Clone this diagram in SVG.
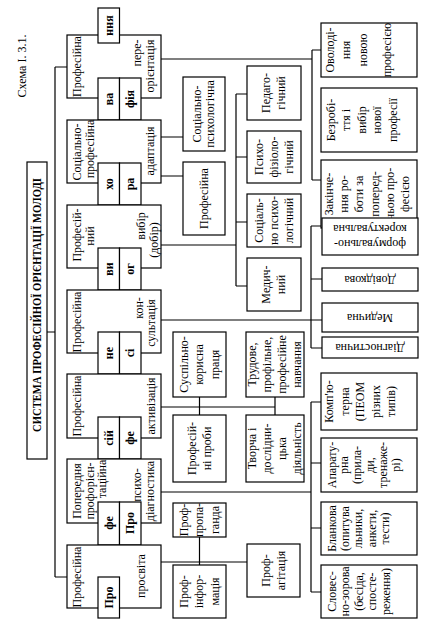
<svg xmlns="http://www.w3.org/2000/svg" width="433" height="631" viewBox="0 0 433 631">
<style>
.b{fill:#fff;stroke:#000;stroke-width:1.2}
.l{fill:none;stroke:#000;stroke-width:1.2}
text{font-family:"Liberation Serif","Times New Roman",serif;font-size:12px;fill:#000;text-anchor:middle}
.bd{font-weight:bold}
</style>
<rect width="433" height="631" fill="#fff"/>
<text transform="translate(22,66) rotate(-90)" y="4">Схема І. 3.1.</text>

<g id="connectors" class="l">
<path d="M55,67V577M55,67H67M55,577H67M47,332H55"/>
<path d="M161,59H312M312,50V180M312,50H321M312,180H321"/>
<path d="M161,137H183M161,176H183"/>
<path d="M161,245H236M236,94V286M236,94H247M236,157H247M236,222H247M236,286H247"/>
<path d="M161,320H322M311,226V348M311,226H322M311,279H322M311,348H322"/>
<path d="M161,407H275M199.5,397V415M275,397V415"/>
<path d="M161,492H311M311,402V592M311,402H321M311,463H321M311,528H321M311,592H321"/>
<path d="M161,562H247M199.5,537V565"/>
</g>

<g id="title">
<rect class="b" x="27" y="162" width="20" height="297"/>
<text class="bd" transform="translate(37,305) rotate(-90)" y="4" textLength="254" lengthAdjust="spacingAndGlyphs">СИСТЕМА ПРОФЕСІЙНОЇ ОРІЄНТАЦІЇ МОЛОДІ</text>
</g>

<g id="cat1">
<rect class="b" x="67" y="35" width="94" height="63"/>
<rect class="b" x="98" y="8" width="21.5" height="35"/>
<rect class="b" x="98" y="78" width="21.5" height="42"/>
<rect class="b" x="119.5" y="78" width="21.5" height="42"/>
<text transform="translate(77,66.5) rotate(-90)" y="4">Професійна</text>
<text class="bd" transform="translate(108.7,25.5) rotate(-90)" y="4">ння</text>
<text class="bd" transform="translate(108.7,99) rotate(-90)" y="4">ва</text>
<text class="bd" transform="translate(130.3,99) rotate(-90)" y="4">фія</text>
<text transform="translate(137,53) rotate(-90)" y="4">пере-</text>
<text transform="translate(149.5,66) rotate(-90)" y="4">орієнтація</text>
</g>

<g id="cat2">
<rect class="b" x="67" y="120" width="94" height="63"/>
<rect class="b" x="98" y="163" width="21.5" height="42"/>
<rect class="b" x="119.5" y="163" width="21.5" height="42"/>
<text transform="translate(77,152) rotate(-90)" y="4">Соціально-</text>
<text transform="translate(89.5,149) rotate(-90)" y="4">професійна</text>
<text class="bd" transform="translate(108.7,184) rotate(-90)" y="4">хо</text>
<text class="bd" transform="translate(130.3,184) rotate(-90)" y="4">ра</text>
<text transform="translate(150,151) rotate(-90)" y="4">адаптація</text>
</g>

<g id="cat3">
<rect class="b" x="67" y="205" width="94" height="63"/>
<rect class="b" x="98" y="248" width="21.5" height="42"/>
<rect class="b" x="119.5" y="248" width="21.5" height="42"/>
<text transform="translate(77,235) rotate(-90)" y="4">Професій-</text>
<text transform="translate(89.5,236) rotate(-90)" y="4">ний</text>
<text class="bd" transform="translate(108.7,269) rotate(-90)" y="4">ви</text>
<text class="bd" transform="translate(130.3,269) rotate(-90)" y="4">ог</text>
<text transform="translate(141,226) rotate(-90)" y="4">вибір</text>
<text transform="translate(154,240) rotate(-90)" y="4">(добір)</text>
</g>

<g id="cat4">
<rect class="b" x="67" y="290" width="94" height="63"/>
<rect class="b" x="98" y="332" width="21.5" height="42"/>
<rect class="b" x="119.5" y="332" width="21.5" height="42"/>
<text transform="translate(77,322) rotate(-90)" y="4">Професійна</text>
<text class="bd" transform="translate(108.7,353) rotate(-90)" y="4">не</text>
<text class="bd" transform="translate(130.3,353) rotate(-90)" y="4">сі</text>
<text transform="translate(139,308) rotate(-90)" y="4">кон-</text>
<text transform="translate(151,323) rotate(-90)" y="4">сультація</text>
</g>

<g id="cat5">
<rect class="b" x="67" y="374" width="94" height="64"/>
<rect class="b" x="98" y="417" width="21.5" height="42"/>
<rect class="b" x="119.5" y="417" width="21.5" height="42"/>
<text transform="translate(77,406) rotate(-90)" y="4">Професійна</text>
<text class="bd" transform="translate(108.7,438) rotate(-90)" y="4">сій</text>
<text class="bd" transform="translate(130.3,438) rotate(-90)" y="4">фе</text>
<text transform="translate(151,406) rotate(-90)" y="4">активізація</text>
</g>

<g id="cat6">
<rect class="b" x="67" y="459" width="94" height="64"/>
<rect class="b" x="98" y="502" width="21.5" height="43"/>
<rect class="b" x="119.5" y="502" width="21.5" height="43"/>
<text transform="translate(77,491) rotate(-90)" y="4">Попередня</text>
<text transform="translate(89.5,491) rotate(-90)" y="4">профорієн-</text>
<text transform="translate(102,479) rotate(-90)" y="4">таційна</text>
<text class="bd" transform="translate(108.7,523) rotate(-90)" y="4">фе</text>
<text class="bd" transform="translate(130.3,523) rotate(-90)" y="4">Про</text>
<text transform="translate(137,485) rotate(-90)" y="4">психо-</text>
<text transform="translate(149.5,491) rotate(-90)" y="4">діагностика</text>
</g>

<g id="cat7">
<rect class="b" x="67" y="545" width="94" height="63"/>
<rect class="b" x="98" y="577" width="21.5" height="41"/>
<text transform="translate(77,577) rotate(-90)" y="4">Професійна</text>
<text class="bd" transform="translate(108.7,597.5) rotate(-90)" y="4">Про</text>
<text transform="translate(141,576) rotate(-90)" y="4">просвіта</text>
</g>

<g id="a1">
<rect class="b" x="321" y="23" width="96" height="54"/>
<text transform="translate(329.5,50) rotate(-90)" y="4">Оволоді-</text>
<text transform="translate(346,50) rotate(-90)" y="4">ння</text>
<text transform="translate(363,50) rotate(-90)" y="4">новою</text>
<text transform="translate(387,50) rotate(-90)" y="4">професією</text>
</g>
<g id="a2">
<rect class="b" x="321" y="88" width="96" height="64"/>
<text transform="translate(330.5,120) rotate(-90)" y="4">Безробі-</text>
<text transform="translate(346,120) rotate(-90)" y="4">ття і</text>
<text transform="translate(361.5,120) rotate(-90)" y="4">вибір</text>
<text transform="translate(377,120) rotate(-90)" y="4">нової</text>
<text transform="translate(392.5,120) rotate(-90)" y="4">професії</text>
</g>
<g id="a3">
<rect class="b" x="321" y="160" width="96" height="68"/>
<text transform="translate(329,194) rotate(-90)" y="4">Закінче-</text>
<text transform="translate(344.2,194) rotate(-90)" y="4">ння ро-</text>
<text transform="translate(359.4,194) rotate(-90)" y="4">боти за</text>
<text transform="translate(374.6,194) rotate(-90)" y="4">поперед-</text>
<text transform="translate(389.8,194) rotate(-90)" y="4">ньою про-</text>
<text transform="translate(405,194) rotate(-90)" y="4">фесією</text>
</g>

<g id="b1">
<rect class="b" x="183" y="77" width="42" height="74"/>
<text transform="translate(197,114) rotate(-90)" y="4">Соціально-</text>
<text transform="translate(210,114) rotate(-90)" y="4">психологічна</text>
</g>
<g id="b2">
<rect class="b" x="183" y="162" width="42" height="73"/>
<text transform="translate(204,198.5) rotate(-90)" y="4">Професійна</text>
</g>

<g id="c1">
<rect class="b" x="247" y="66" width="54" height="54"/>
<text transform="translate(266,93) rotate(-90)" y="4">Педаго-</text>
<text transform="translate(281,93) rotate(-90)" y="4">гічний</text>
</g>
<g id="c2">
<rect class="b" x="247" y="131" width="54" height="52"/>
<text transform="translate(259,157) rotate(-90)" y="4">Психо-</text>
<text transform="translate(274,157) rotate(-90)" y="4">фізіоло-</text>
<text transform="translate(289,157) rotate(-90)" y="4">гічний</text>
</g>
<g id="c3">
<rect class="b" x="247" y="194" width="54" height="53"/>
<text transform="translate(259,220.5) rotate(-90)" y="4">Соціаль-</text>
<text transform="translate(274,220.5) rotate(-90)" y="4">но психо-</text>
<text transform="translate(289,220.5) rotate(-90)" y="4">логічний</text>
</g>
<g id="c4">
<rect class="b" x="247" y="258" width="54" height="53"/>
<text transform="translate(266,284.5) rotate(-90)" y="4">Медич-</text>
<text transform="translate(281,284.5) rotate(-90)" y="4">ний</text>
</g>

<g id="d1">
<rect class="b" x="322" y="218" width="96" height="37"/>
<text transform="translate(370,244) rotate(180)" y="4">формувально-</text>
<text transform="translate(370,229) rotate(180)" y="4">коректувальна</text>
</g>
<g id="d2">
<rect class="b" x="322" y="268" width="96" height="23"/>
<text transform="translate(370,279.5) rotate(180)" y="4">Довідкова</text>
</g>
<g id="d3">
<rect class="b" x="322" y="303" width="96" height="29"/>
<text transform="translate(370,317.5) rotate(180)" y="4">Медична</text>
</g>
<g id="d4">
<rect class="b" x="322" y="337" width="96" height="21"/>
<text transform="translate(370,347.5) rotate(180)" y="4">Діагностична</text>
</g>

<g id="e1">
<rect class="b" x="173" y="332" width="53" height="65"/>
<text transform="translate(183.5,364.5) rotate(-90)" y="4">Суспільно-</text>
<text transform="translate(199,364.5) rotate(-90)" y="4">корисна</text>
<text transform="translate(214.5,364.5) rotate(-90)" y="4">праця</text>
</g>
<g id="e2">
<rect class="b" x="246" y="332" width="58" height="65"/>
<text transform="translate(252,364.5) rotate(-90)" y="4">Трудове,</text>
<text transform="translate(267,364.5) rotate(-90)" y="4">профільне,</text>
<text transform="translate(282,364.5) rotate(-90)" y="4">професійне</text>
<text transform="translate(297,364.5) rotate(-90)" y="4">навчання</text>
</g>
<g id="e3">
<rect class="b" x="173" y="415" width="53" height="67"/>
<text transform="translate(192,448.5) rotate(-90)" y="4">Професій-</text>
<text transform="translate(207,448.5) rotate(-90)" y="4">ні проби</text>
</g>
<g id="e4">
<rect class="b" x="246" y="415" width="58" height="67"/>
<text transform="translate(252,448.5) rotate(-90)" y="4">Творча і</text>
<text transform="translate(267,448.5) rotate(-90)" y="4">дослідни-</text>
<text transform="translate(282,448.5) rotate(-90)" y="4">цька</text>
<text transform="translate(297,448.5) rotate(-90)" y="4">діяльність</text>
</g>

<g id="f1">
<rect class="b" x="321" y="373" width="96" height="57"/>
<text transform="translate(329,401.5) rotate(-90)" y="4">Комп'ю-</text>
<text transform="translate(344.5,401.5) rotate(-90)" y="4">терна</text>
<text transform="translate(360,401.5) rotate(-90)" y="4">(ПЕОМ</text>
<text transform="translate(375.5,401.5) rotate(-90)" y="4">різних</text>
<text transform="translate(391,401.5) rotate(-90)" y="4">типів)</text>
</g>
<g id="f2">
<rect class="b" x="321" y="438" width="96" height="54"/>
<text transform="translate(331.5,465) rotate(-90)" y="4">Апарату-</text>
<text transform="translate(344.3,465) rotate(-90)" y="4">рна</text>
<text transform="translate(357.1,465) rotate(-90)" y="4">(прила-</text>
<text transform="translate(369.9,465) rotate(-90)" y="4">ди,</text>
<text transform="translate(382.7,465) rotate(-90)" y="4">тренаже-</text>
<text transform="translate(395.5,465) rotate(-90)" y="4">рі)</text>
</g>
<g id="f3">
<rect class="b" x="321" y="502" width="96" height="53"/>
<text transform="translate(331.5,528.5) rotate(-90)" y="4">Бланкова</text>
<text transform="translate(344.9,528.5) rotate(-90)" y="4">(опитува</text>
<text transform="translate(358.3,528.5) rotate(-90)" y="4">льники,</text>
<text transform="translate(371.7,528.5) rotate(-90)" y="4">анкети,</text>
<text transform="translate(385.1,528.5) rotate(-90)" y="4">тести)</text>
</g>
<g id="f4">
<rect class="b" x="321" y="565" width="96" height="53"/>
<text transform="translate(331.5,591.5) rotate(-90)" y="4">Словес-</text>
<text transform="translate(345,591.5) rotate(-90)" y="4">но-зорова</text>
<text transform="translate(358.5,591.5) rotate(-90)" y="4">(бесіда,</text>
<text transform="translate(372,591.5) rotate(-90)" y="4">спосте-</text>
<text transform="translate(385.5,591.5) rotate(-90)" y="4">реження)</text>
</g>

<g id="g1">
<rect class="b" x="173" y="503" width="53" height="34"/>
<text transform="translate(183.5,520) rotate(-90)" y="4">Проф-</text>
<text transform="translate(199,520) rotate(-90)" y="4">пропа-</text>
<text transform="translate(214.5,520) rotate(-90)" y="4">ганда</text>
</g>
<g id="g2">
<rect class="b" x="173" y="565" width="53" height="53"/>
<text transform="translate(183.5,591.5) rotate(-90)" y="4">Проф-</text>
<text transform="translate(199,591.5) rotate(-90)" y="4">інфор-</text>
<text transform="translate(214.5,591.5) rotate(-90)" y="4">мація</text>
</g>
<g id="g3">
<rect class="b" x="247" y="544" width="53" height="53"/>
<text transform="translate(266,570.5) rotate(-90)" y="4">Проф-</text>
<text transform="translate(281,570.5) rotate(-90)" y="4">агітація</text>
</g>
</svg>
